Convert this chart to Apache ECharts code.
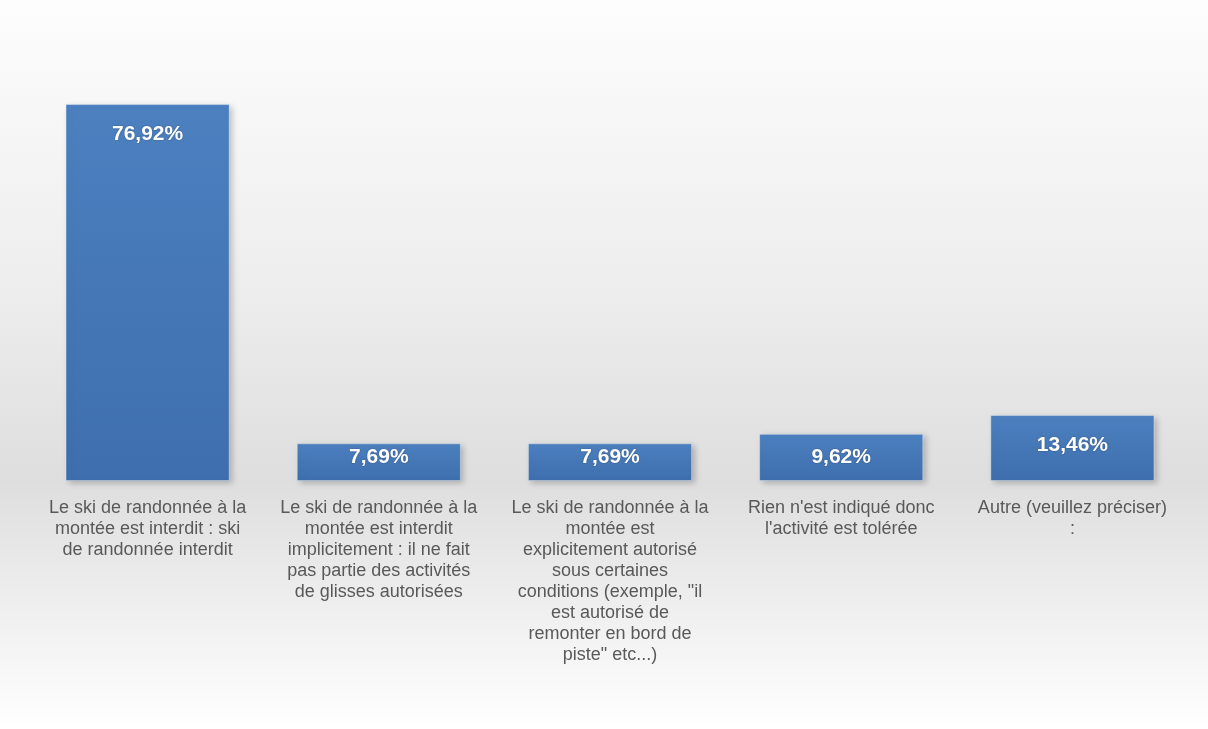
<!DOCTYPE html>
<html>
<head>
<meta charset="utf-8">
<script src="https://cdn.jsdelivr.net/npm/echarts@6/dist/echarts.min.js"></script>
<style>
html,body{margin:0;padding:0;background:#fff;}
#chart{width:1208px;height:729px;}
</style>
</head>
<body>
<div id="chart"></div>
<script>
const categories = [
  "Le ski de randonnée à la\nmontée est interdit : ski\nde randonnée interdit",
  "Le ski de randonnée à la\nmontée est interdit\nimplicitement : il ne fait\npas partie des activités\nde glisses autorisées",
  "Le ski de randonnée à la\nmontée est\nexplicitement autorisé\nsous certaines\nconditions (exemple, \"il\nest autorisé de\nremonter en bord de\npiste\" etc...)",
  "Rien n'est indiqué donc\nl'activité est tolérée",
  "Autre (veuillez préciser)\n:"
];
const values = [76.92, 7.69, 7.69, 9.62, 13.46];

const chart = echarts.init(document.getElementById('chart'), null, {renderer: 'canvas'});
const fmt = v => v.toFixed(2).replace('.', ',') + '%';

function labelFor(v) {
  if (v > 12) return {position: 'insideTop', distance: 20};
  if (v > 9) return {position: 'inside'};
  return {position: 'insideTop', distance: 3};
}

chart.setOption({
  animation: false,
  backgroundColor: {
    type: 'linear', x: 0, y: 0, x2: 0, y2: 1,
    colorStops: [
      {offset: 0, color: '#fdfdfd'},
      {offset: 0.4, color: '#ededed'},
      {offset: 0.66, color: '#dedede'},
      {offset: 1, color: '#ffffff'}
    ]
  },
  grid: {left: 32, right: 20, top: 89, bottom: 248},
  xAxis: {
    type: 'category',
    data: categories,
    axisLine: {show: false},
    axisTick: {show: false},
    axisLabel: {
      interval: 0,
      margin: 17,
      color: '#595959',
      fontFamily: 'Liberation Sans',
      fontSize: 18,
      lineHeight: 21
    }
  },
  yAxis: {
    type: 'value',
    min: 0,
    max: 80,
    show: false,
    splitLine: {show: false}
  },
  series: [{
    type: 'bar',
    barWidth: '71%',
    data: values.map(v => ({value: v, label: labelFor(v)})),
    itemStyle: {
      color: {
        type: 'linear', x: 0, y: 0, x2: 0, y2: 1,
        colorStops: [
          {offset: 0, color: '#4c80bf'},
          {offset: 1, color: '#3e6eae'}
        ]
      },
      borderColor: 'rgba(255,255,255,0.35)',
      borderWidth: 1,
      shadowColor: 'rgba(0,0,0,0.22)',
      shadowBlur: 6,
      shadowOffsetX: 3,
      shadowOffsetY: 2
    },
    label: {
      show: true,
      formatter: p => fmt(p.value),
      color: '#ffffff',
      fontFamily: 'Liberation Sans',
      fontWeight: 'bold',
      fontSize: 21,
      textShadowColor: 'rgba(0,0,0,0.3)',
      textShadowBlur: 2
    }
  }]
});
</script>
</body>
</html>
